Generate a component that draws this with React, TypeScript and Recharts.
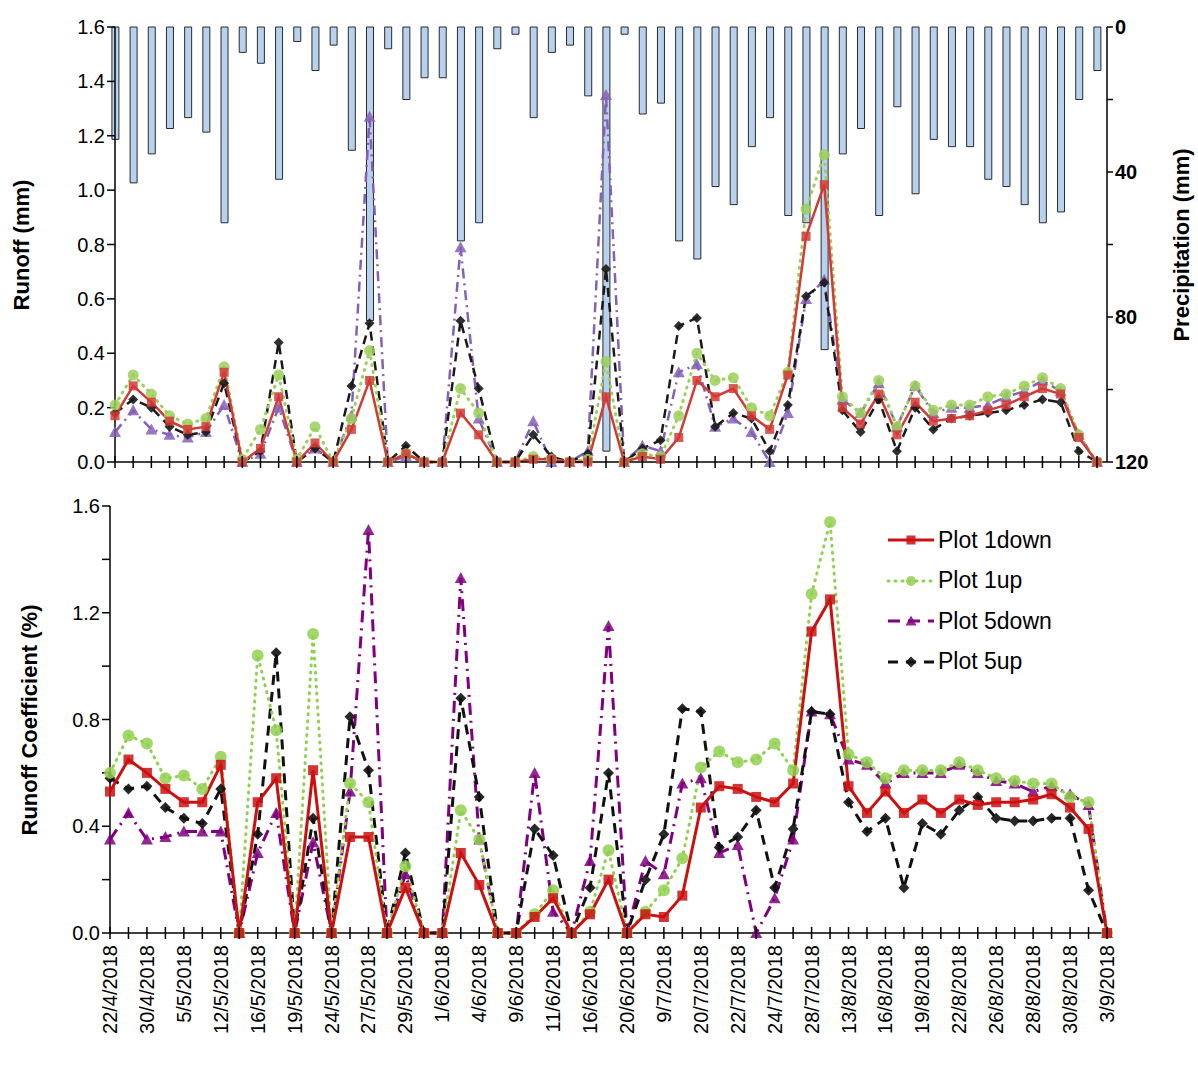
import React from "react";
import {
  Bar,
  ComposedChart,
  Line,
  LineChart,
  XAxis,
  YAxis,
} from "recharts";

const dates = [
  "22/4/2018", "", "30/4/2018", "", "5/5/2018", "", "12/5/2018", "", "16/5/2018", "",
  "19/5/2018", "", "24/5/2018", "", "27/5/2018", "", "29/5/2018", "", "1/6/2018", "",
  "4/6/2018", "", "9/6/2018", "", "11/6/2018", "", "16/6/2018", "", "20/6/2018", "",
  "9/7/2018", "", "20/7/2018", "", "22/7/2018", "", "24/7/2018", "", "28/7/2018", "",
  "13/8/2018", "", "16/8/2018", "", "19/8/2018", "", "22/8/2018", "", "26/8/2018", "",
  "28/8/2018", "", "30/8/2018", "", "3/9/2018",
];

const precip = [
  31, 43, 35, 28, 25, 29, 54, 7, 10, 42, 4, 12, 5, 34, 81, 6, 20, 14, 14, 59,
  54, 6, 2, 25, 7, 5, 19, 117, 2, 24, 21, 59, 64, 44, 49, 33, 25, 52, 54, 89,
  35, 28, 52, 22, 46, 31, 33, 33, 42, 44, 49, 54, 51, 20, 12,
];

const runoff1down = [
  0.17, 0.28, 0.22, 0.15, 0.12, 0.13, 0.33, 0.0, 0.05, 0.24, 0.0, 0.07, 0.0, 0.12, 0.3, 0.0, 0.03, 0.0, 0.0, 0.18,
  0.1, 0.0, 0.0, 0.01, 0.01, 0.0, 0.0, 0.24, 0.0, 0.02, 0.01, 0.09, 0.3, 0.24, 0.27, 0.17, 0.12, 0.32, 0.83, 1.02,
  0.2, 0.14, 0.25, 0.1, 0.22, 0.15, 0.16, 0.17, 0.19, 0.21, 0.24, 0.27, 0.25, 0.09, 0.0,
];
const runoff1up = [
  0.21, 0.32, 0.25, 0.17, 0.14, 0.16, 0.35, 0.01, 0.12, 0.32, 0.01, 0.13, 0.0, 0.16, 0.41, 0.0, 0.03, 0.0, 0.0, 0.27,
  0.18, 0.0, 0.0, 0.02, 0.01, 0.0, 0.01, 0.37, 0.0, 0.03, 0.02, 0.17, 0.4, 0.3, 0.31, 0.2, 0.17, 0.33, 0.93, 1.13,
  0.24, 0.18, 0.3, 0.13, 0.28, 0.19, 0.21, 0.21, 0.24, 0.25, 0.28, 0.31, 0.27, 0.1, 0.0,
];
const runoff5down = [
  0.11, 0.19, 0.12, 0.1, 0.09, 0.11, 0.21, 0.0, 0.03, 0.2, 0.0, 0.05, 0.0, 0.17, 1.27, 0.0, 0.02, 0.0, 0.0, 0.79,
  0.16, 0.0, 0.0, 0.15, 0.0, 0.0, 0.04, 1.35, 0.0, 0.06, 0.04, 0.33, 0.36, 0.13, 0.16, 0.11, 0.0, 0.18, 0.6, 0.67,
  0.23, 0.18, 0.29, 0.13, 0.28, 0.18, 0.2, 0.2, 0.21, 0.24, 0.26, 0.3, 0.26, 0.1, 0.0,
];
const runoff5up = [
  0.18, 0.23, 0.2, 0.13, 0.1, 0.11, 0.29, 0.0, 0.04, 0.44, 0.0, 0.05, 0.0, 0.28, 0.51, 0.0, 0.06, 0.0, 0.0, 0.52,
  0.27, 0.0, 0.0, 0.1, 0.02, 0.0, 0.03, 0.71, 0.0, 0.05, 0.08, 0.5, 0.53, 0.13, 0.18, 0.16, 0.04, 0.21, 0.61, 0.66,
  0.19, 0.11, 0.23, 0.04, 0.2, 0.12, 0.16, 0.17, 0.18, 0.19, 0.21, 0.23, 0.22, 0.04, 0.0,
];

const coef1down = [
  0.53, 0.65, 0.6, 0.54, 0.49, 0.49, 0.63, 0.0, 0.49, 0.58, 0.0, 0.61, 0.0, 0.36, 0.36, 0.0, 0.17, 0.0, 0.0, 0.3,
  0.18, 0.0, 0.0, 0.06, 0.13, 0.0, 0.07, 0.2, 0.0, 0.07, 0.06, 0.14, 0.47, 0.55, 0.54, 0.51, 0.49, 0.56, 1.13, 1.25,
  0.55, 0.45, 0.53, 0.45, 0.5, 0.45, 0.5, 0.48, 0.49, 0.49, 0.5, 0.52, 0.47, 0.39, 0.0,
];
const coef1up = [
  0.6, 0.74, 0.71, 0.58, 0.59, 0.54, 0.66, 0.0, 1.04, 0.76, 0.0, 1.12, 0.0, 0.56, 0.49, 0.0, 0.25, 0.0, 0.0, 0.46,
  0.35, 0.0, 0.0, 0.07, 0.16, 0.0, 0.08, 0.31, 0.0, 0.08, 0.16, 0.28, 0.62, 0.68, 0.64, 0.65, 0.71, 0.61, 1.27, 1.54,
  0.67, 0.64, 0.58, 0.61, 0.61, 0.61, 0.64, 0.61, 0.58, 0.57, 0.56, 0.56, 0.51, 0.49, 0.0,
];
const coef5down = [
  0.35, 0.45, 0.35, 0.36, 0.38, 0.38, 0.38, 0.0, 0.3, 0.45, 0.0, 0.34, 0.0, 0.53, 1.51, 0.0, 0.22, 0.0, 0.0, 1.33,
  0.35, 0.0, 0.0, 0.6, 0.08, 0.0, 0.27, 1.15, 0.0, 0.27, 0.22, 0.56, 0.58, 0.3, 0.33, 0.0, 0.13, 0.35, 0.83, 0.82,
  0.65, 0.63, 0.56, 0.6, 0.6, 0.6, 0.63, 0.6, 0.57, 0.56, 0.53, 0.55, 0.52, 0.48, 0.0,
];
const coef5up = [
  0.58, 0.54, 0.55, 0.47, 0.43, 0.41, 0.54, 0.0, 0.37, 1.05, 0.0, 0.43, 0.0, 0.81, 0.61, 0.0, 0.3, 0.0, 0.0, 0.88,
  0.51, 0.0, 0.0, 0.39, 0.29, 0.0, 0.17, 0.6, 0.0, 0.2, 0.37, 0.84, 0.83, 0.32, 0.36, 0.46, 0.17, 0.39, 0.83, 0.82,
  0.49, 0.38, 0.43, 0.17, 0.41, 0.37, 0.46, 0.51, 0.43, 0.42, 0.42, 0.43, 0.43, 0.16, 0.0,
];

const idx = dates.map((_, i) => i);
const topData = idx.map((i) => ({
  i,
  p: precip[i],
  a: runoff1down[i],
  b: runoff1up[i],
  c: runoff5down[i],
  d: runoff5up[i],
}));
const bottomData = idx.map((i) => ({
  i,
  a: coef1down[i],
  b: coef1up[i],
  c: coef5down[i],
  d: coef5up[i],
}));

const FONT = "'Liberation Sans', Arial, sans-serif";
const TOP = { a: "#d23b35", b: "#9bd05a", c: "#8660b8", d: "#1a1a1a" };
const BOT = { a: "#cc1010", b: "#92d050", c: "#800080", d: "#111111" };

type Kind = "square" | "circle" | "tri" | "diamond";

function Marker({ kind, cx, cy, color, s }: { kind: Kind; cx: number; cy: number; color: string; s: number }) {
  if (kind === "square")
    return <rect x={cx - s / 2} y={cy - s / 2} width={s} height={s} fill={color} fillOpacity={0.85} />;
  if (kind === "circle") return <circle cx={cx} cy={cy} r={s / 2 + 0.5} fill={color} fillOpacity={0.85} />;
  if (kind === "tri")
    return (
      <polygon
        points={`${cx},${cy - s / 2 - 1} ${cx - s / 2 - 1},${cy + s / 2} ${cx + s / 2 + 1},${cy + s / 2}`}
        fill={color}
        fillOpacity={0.85}
      />
    );
  const h = s / 2 + 1;
  return <polygon points={`${cx},${cy - h} ${cx + h},${cy} ${cx},${cy + h} ${cx - h},${cy}`} fill={color} fillOpacity={0.9} />;
}

const dot = (kind: Kind, color: string, s: number) => (props: any) => {
  const { cx, cy, index } = props;
  if (cx == null || cy == null) return <g key={index} />;
  return (
    <g key={index}>
      <Marker kind={kind} cx={cx} cy={cy} color={color} s={s} />
    </g>
  );
};

const xTickTop = (props: any) => {
  const { x, y } = props;
  return <line x1={x} x2={x} y1={y - 14} y2={y - 2} stroke="#000" strokeWidth={1.5} />;
};

const xTickBottom = (props: any) => {
  const { x, y, payload } = props;
  const label = dates[payload.value] ?? "";
  return (
    <g>
      <line x1={x} x2={x} y1={y - 14} y2={y - 2} stroke="#000" strokeWidth={1.5} />
      {label && (
        <text
          x={0}
          y={0}
          transform={`translate(${x + 7},${y + 4}) rotate(-90)`}
          textAnchor="end"
          fontSize={20}
          fontFamily={FONT}
          fill="#000"
        >
          {label}
        </text>
      )}
    </g>
  );
};

const tickStyle = { fontSize: 20, fontFamily: FONT, fill: "#000" };

const legendRows: { name: string; kind: Kind; color: string; dash?: string }[] = [
  { name: "Plot 1down", kind: "square", color: BOT.a },
  { name: "Plot 1up", kind: "circle", color: BOT.b, dash: "1 6" },
  { name: "Plot 5down", kind: "tri", color: BOT.c, dash: "12 8" },
  { name: "Plot 5up", kind: "diamond", color: BOT.d, dash: "10 8" },
];

function LegendBox() {
  return (
    <div style={{ fontFamily: FONT, fontSize: 23 }}>
      {legendRows.map((r) => (
        <div key={r.name} style={{ display: "flex", alignItems: "center", height: 40.5 }}>
          <svg width={52} height={20}>
            <line
              x1={2}
              x2={48}
              y1={10}
              y2={10}
              stroke={r.color}
              strokeWidth={3}
              strokeDasharray={r.dash}
              strokeLinecap={r.kind === "circle" ? "round" : "butt"}
            />
            <Marker kind={r.kind} cx={25} cy={10} color={r.color} s={9} />
          </svg>
          <span style={{ color: "#000" }}>{r.name}</span>
        </div>
      ))}
    </div>
  );
}

document.body.style.margin = "0";

export default function App() {
  const titleStyle: React.CSSProperties = {
    position: "absolute",
    fontFamily: FONT,
    fontWeight: "bold",
    fontSize: 22,
    whiteSpace: "nowrap",
    transform: "translate(-50%, -50%) rotate(-90deg)",
  };
  return (
    <div style={{ position: "relative", width: 1198, height: 1073, background: "#fff" }}>
      <div style={{ position: "absolute", left: 0, top: 0 }}>
        <ComposedChart width={1198} height={480} data={topData} margin={{ top: 27, right: 0, bottom: 8, left: 55 }}>
          <XAxis
            xAxisId="x"
            dataKey="i"
            type="number"
            domain={[0, 54.55]}
            ticks={idx}
            interval={0}
            tick={xTickTop}
            tickLine={false}
            height={10}
            stroke="#000"
            strokeWidth={1.5}
          />
          <XAxis xAxisId="top" orientation="top" dataKey="i" type="number" domain={[0, 54.55]} tick={false} tickLine={false} height={0} stroke="#000" strokeWidth={1.5} />
          <YAxis
            yAxisId="l"
            domain={[0, 1.6]}
            ticks={[0, 0.2, 0.4, 0.6, 0.8, 1.0, 1.2, 1.4, 1.6]}
            tickFormatter={(v: number) => v.toFixed(1)}
            tick={tickStyle}
            tickSize={8}
            width={60}
            stroke="#000"
            strokeWidth={1.5}
          />
          <YAxis
            yAxisId="r"
            orientation="right"
            reversed
            domain={[0, 120]}
            ticks={[0, 20, 40, 60, 80, 100, 120]}
            tickFormatter={(v: number) => (v % 40 === 0 ? String(v) : "")}
            tick={{ ...tickStyle, fontWeight: "bold" }}
            tickSize={6}
            width={91}
            stroke="#000"
            strokeWidth={1.5}
          />
          <Bar xAxisId="x" yAxisId="r" dataKey="p" barSize={7} fill="#b8d1ee" stroke="#2a2a2a" strokeWidth={1} isAnimationActive={false} />
          <Line xAxisId="x" yAxisId="l" dataKey="c" stroke={TOP.c} strokeWidth={2.5} strokeDasharray="10 5 2 5" dot={dot("tri", TOP.c, 10)} isAnimationActive={false} />
          <Line xAxisId="x" yAxisId="l" dataKey="d" stroke={TOP.d} strokeWidth={2.5} strokeDasharray="9 6" dot={dot("diamond", TOP.d, 8)} isAnimationActive={false} />
          <Line xAxisId="x" yAxisId="l" dataKey="b" stroke={TOP.b} strokeWidth={3} strokeDasharray="1 6" strokeLinecap="round" dot={dot("circle", TOP.b, 10)} isAnimationActive={false} />
          <Line xAxisId="x" yAxisId="l" dataKey="a" stroke={TOP.a} strokeWidth={2.5} dot={dot("square", TOP.a, 9)} isAnimationActive={false} />
        </ComposedChart>
      </div>
      <div style={{ position: "absolute", left: 0, top: 480 }}>
        <LineChart width={1198} height={593} data={bottomData} margin={{ top: 26, right: 91, bottom: 0, left: 50 }}>
          <XAxis
            dataKey="i"
            type="number"
            domain={[0, 54]}
            ticks={idx}
            interval={0}
            tick={xTickBottom}
            tickLine={false}
            height={140}
            stroke="#000"
            strokeWidth={1.5}
          />
          <XAxis xAxisId="top" orientation="top" dataKey="i" type="number" domain={[0, 54]} tick={false} tickLine={false} height={0} stroke="#000" strokeWidth={1.5} />
          <YAxis
            domain={[0, 1.6]}
            ticks={[0, 0.2, 0.4, 0.6, 0.8, 1.0, 1.2, 1.4, 1.6]}
            tickFormatter={(v: number) => (Math.round(v * 10) % 4 === 0 ? v.toFixed(1) : "")}
            tick={tickStyle}
            tickSize={8}
            width={60}
            stroke="#000"
            strokeWidth={1.5}
          />
          <YAxis yAxisId="r" orientation="right" domain={[0, 1.6]} tick={false} tickLine={false} width={0} stroke="#000" strokeWidth={1.5} />
          <Line dataKey="c" stroke={BOT.c} strokeWidth={3} strokeDasharray="12 6 2 6" dot={dot("tri", BOT.c, 10)} isAnimationActive={false} />
          <Line dataKey="d" stroke={BOT.d} strokeWidth={3} strokeDasharray="10 7" dot={dot("diamond", BOT.d, 9)} isAnimationActive={false} />
          <Line dataKey="b" stroke={BOT.b} strokeWidth={3} strokeDasharray="1 6" strokeLinecap="round" dot={dot("circle", BOT.b, 11)} isAnimationActive={false} />
          <Line dataKey="a" stroke={BOT.a} strokeWidth={3} dot={dot("square", BOT.a, 10)} isAnimationActive={false} />
        </LineChart>
      </div>
      <div style={{ position: "absolute", left: 886, top: 520 }}>
        <LegendBox />
      </div>
      <div style={{ ...titleStyle, left: 22, top: 245 }}>Runoff (mm)</div>
      <div style={{ ...titleStyle, left: 1182, top: 245 }}>Precipitation (mm)</div>
      <div style={{ ...titleStyle, left: 30, top: 720 }}>Runoff Coefficient (%)</div>
    </div>
  );
}
